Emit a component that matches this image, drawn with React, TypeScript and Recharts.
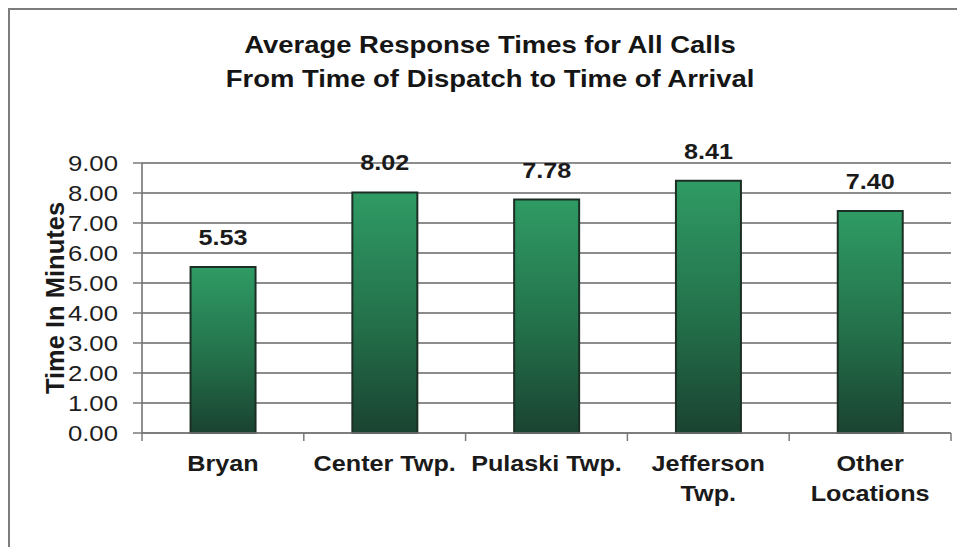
import React from 'react';
import { BarChart, Bar, XAxis, YAxis, CartesianGrid, LabelList } from 'recharts';

const categories = ['Bryan', 'Center Twp.', 'Pulaski Twp.', 'Jefferson Twp.', 'Other Locations'];
const tickLabels = ['Bryan', 'Center Twp.', 'Pulaski Twp.', 'Jefferson\nTwp.', 'Other\nLocations'];
const responseTimes = [5.53, 8.02, 7.78, 8.41, 7.4];
const yTicks = [0, 1, 2, 3, 4, 5, 6, 7, 8, 9];
const titleLines = ['Average Response Times for All Calls', 'From Time of Dispatch to Time of Arrival'];

const data = categories.map((name, i) => ({ name, label: tickLabels[i], value: responseTimes[i] }));

const FONT = '"Liberation Sans", Arial, Helvetica, sans-serif';
const STRETCH = 1.12;
const AXIS_GRAY = '#7a7a7a';

function YTick(props: any) {
  const { x, y, payload } = props;
  return (
    <g transform={`translate(${x},${y + 8}) scale(${STRETCH},1)`}>
      <text textAnchor="end" fontFamily={FONT} fontSize={23} fill="#1e1e1e">
        {Number(payload.value).toFixed(2)}
      </text>
    </g>
  );
}

function CategoryTick(props: any) {
  const { x, y, payload, index, width } = props;
  const half = payload.offset ?? width / categories.length / 2;
  const i0 = payload.index ?? index;
  const lines = tickLabels[i0].split('\n');
  return (
    <g>
      {/* boundary ticks between categories */}
      {i0 === 0 && (
        <line x1={x - half} x2={x - half} y1={y} y2={y + 8} stroke={AXIS_GRAY} strokeWidth={1.5} />
      )}
      <line x1={x + half} x2={x + half} y1={y} y2={y + 8} stroke={AXIS_GRAY} strokeWidth={1.5} />
      {lines.map((line: string, i: number) => (
        <g key={i} transform={`translate(${x},${y + 38 + i * 30}) scale(${STRETCH},1)`}>
          <text textAnchor="middle" fontFamily={FONT} fontWeight="bold" fontSize={22.5} fill="#1a1a1a">
            {line}
          </text>
        </g>
      ))}
    </g>
  );
}

function ValueLabel(props: any) {
  const { x, y, width, value } = props;
  return (
    <g transform={`translate(${x + width / 2},${y - 22}) scale(${STRETCH},1)`}>
      <text textAnchor="middle" fontFamily={FONT} fontWeight="bold" fontSize={22.5} fill="#1a1a1a">
        {Number(value).toFixed(2)}
      </text>
    </g>
  );
}

function AxisTitle(props: any) {
  const { viewBox } = props;
  const cy = viewBox.y + viewBox.height / 2;
  return (
    <text
      transform={`translate(54,${cy}) rotate(-90)`}
      textAnchor="middle"
      fontFamily={FONT}
      fontWeight="bold"
      fontSize={25.5}
      fill="#1a1a1a"
    >
      Time In Minutes
    </text>
  );
}

export default function App() {
  return (
    <div
      style={{
        position: 'relative',
        width: 947,
        height: 537,
        borderLeft: '2px solid #7c7c7c',
        borderTop: '2px solid #7c7c7c',
        background: '#fff',
        fontFamily: FONT,
      }}
    >
      <div
        style={{
          position: 'absolute',
          left: 10,
          top: 18,
          width: 940,
          textAlign: 'center',
          fontSize: 24.5,
          fontWeight: 'bold',
          lineHeight: '34px',
          color: '#151515',
          transform: `scaleX(${STRETCH})`,
        }}
      >
        {titleLines.map((t) => (
          <div key={t}>{t}</div>
        ))}
      </div>
      <BarChart
        width={947}
        height={537}
        data={data}
        margin={{ top: 153, right: 6, left: 0, bottom: 0 }}
        barCategoryGap="30%"
      >
        <defs>
          <linearGradient id="barFill" x1="0" y1="0" x2="0" y2="1">
            <stop offset="0%" stopColor="#2f9b64" />
            <stop offset="55%" stopColor="#23704a" />
            <stop offset="100%" stopColor="#1a4331" />
          </linearGradient>
        </defs>
        <CartesianGrid vertical={false} stroke="#8c8c8c" strokeWidth={1.8} />
        <XAxis
          dataKey="name"
          interval={0}
          height={114}
          tickSize={0}
          tickMargin={0}
          tickLine={false}
          axisLine={{ stroke: AXIS_GRAY, strokeWidth: 1.5 }}
          tick={<CategoryTick />}
        />
        <YAxis
          width={132}
          domain={[0, 9]}
          ticks={yTicks}
          interval={0}
          tickSize={9}
          tickMargin={15}
          tickLine={{ stroke: AXIS_GRAY, strokeWidth: 1.5 }}
          axisLine={{ stroke: '#6a6a6a', strokeWidth: 1.5 }}
          tick={<YTick />}
          label={<AxisTitle />}
        />
        <Bar dataKey="value" fill="url(#barFill)" stroke="#1c2f24" strokeWidth={2} isAnimationActive={false}>
          <LabelList dataKey="value" content={<ValueLabel />} />
        </Bar>
      </BarChart>
    </div>
  );
}
